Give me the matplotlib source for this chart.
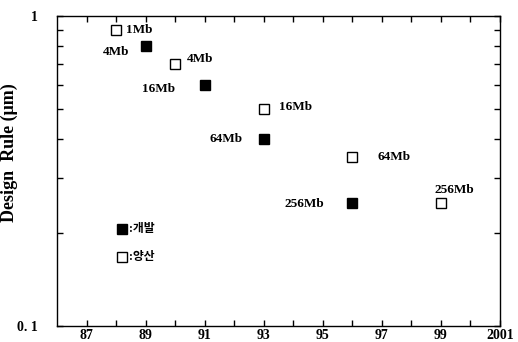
import numpy as np
import matplotlib.pyplot as plt
from matplotlib.ticker import NullFormatter

plt.rcParams['font.family'] = ['Liberation Serif', 'Noto Sans CJK KR', 'DejaVu Sans']
plt.rcParams['font.weight'] = 'bold'

# 개발 (development) - filled squares
dev_year = [89, 91, 93, 96]
dev_rule = [0.8, 0.6, 0.4, 0.25]
dev_label = ['4Mb', '16Mb', '64Mb', '256Mb']

# 양산 (mass production) - open squares
prod_year = [88, 90, 93, 96, 99]
prod_rule = [0.9, 0.7, 0.5, 0.35, 0.25]
prod_label = ['1Mb', '4Mb', '16Mb', '64Mb', '256Mb']

year_ticks = list(range(87, 102))
year_labels = ['87', '', '89', '', '91', '', '93', '', '95', '', '97', '', '99', '', '2001']

fig = plt.figure(figsize=(5.18, 3.42), dpi=100)
ax = fig.add_axes([57/518, 16/342, 443/518, 310/342])

ax.set_yscale('log')
ax.plot(dev_year, dev_rule, 's', ms=6.5, mfc='black', mec='black', mew=1)
ax.plot(prod_year, prod_rule, 's', ms=6.5, mfc='white', mec='black', mew=1)

# label offsets in pixels
dev_offs = [(-16, -6), (-30, -4), (-21, 0), (-28, -1)]
for x, y, t, (dx, dy) in zip(dev_year, dev_rule, dev_label, dev_offs):
    ax.annotate(t, (x, y), xytext=(dx, dy), textcoords='offset pixels',
                ha='right', va='center', fontsize=9.5, fontweight='bold')

prod_offs = [(10, 0, 'left'), (12, 5, 'left'), (15, 2, 'left'), (25, 0, 'left'), (13, 13, 'center')]
for x, y, t, (dx, dy, ha) in zip(prod_year, prod_rule, prod_label, prod_offs):
    ax.annotate(t, (x, y), xytext=(dx, dy), textcoords='offset pixels',
                ha=ha, va='center', fontsize=9.5, fontweight='bold')

# legend drawn inside the plot
ax.plot([88.2], [0.205], 's', ms=6.5, mfc='black', mec='black', mew=1)
ax.plot([88.2], [0.167], 's', ms=6.5, mfc='white', mec='black', mew=1)
ax.annotate(':개발', (88.2, 0.205), xytext=(7, 0), textcoords='offset pixels',
            ha='left', va='center', fontsize=8.5, fontweight='bold')
ax.annotate(':양산', (88.2, 0.167), xytext=(7, 0), textcoords='offset pixels',
            ha='left', va='center', fontsize=8.5, fontweight='bold')

ax.set_xlim(86, 101)
ax.set_ylim(0.1, 1)
ax.set_xticks(year_ticks)
ax.set_xticklabels(year_labels, fontsize=10, fontweight='bold')
ax.set_yticks([0.1, 1])
ax.set_yticklabels(['0. 1', '1'], fontsize=10, fontweight='bold')
ax.set_yticks(np.arange(0.2, 1.0, 0.1), minor=True)
ax.yaxis.set_minor_formatter(NullFormatter())
ax.tick_params(axis='both', which='both', direction='in', top=True, right=True,
               length=4, width=1)
ax.tick_params(axis='y', which='major', pad=14)
ax.tick_params(axis='x', which='major', pad=2.5)

ax.set_ylabel('Design  Rule (μm)', fontsize=13, fontweight='bold')
ax.yaxis.set_label_coords(-0.088, 0.56)
for s in ax.spines.values():
    s.set_linewidth(1)

fig.savefig('out.png', dpi=100)
